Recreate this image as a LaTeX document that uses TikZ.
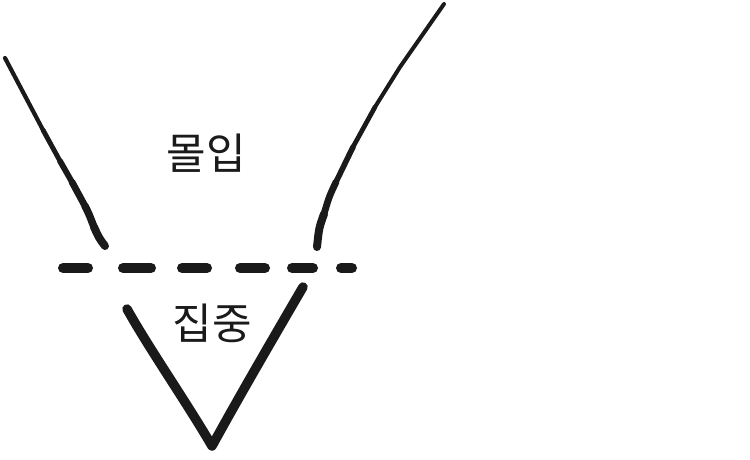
\documentclass[tikz,border=0pt]{standalone}
\usepackage{fontspec}
\newfontfamily\krfont{Noto Sans CJK KR}
\definecolor{ink}{HTML}{1A1A1A}
\begin{document}
\begin{tikzpicture}[x=1pt,y=-1pt,
  stroke/.style={draw=ink,line cap=round,line join=round},
  dashseg/.style={stroke,line width=10pt},
  vline/.style={stroke,line width=9.5pt},
  label/.style={font=\krfont\fontsize{43}{43}\selectfont,text=ink,inner sep=0pt}]
\useasboundingbox (0,0) rectangle (750,460);
% left upper line (tapering)
\coordinate (l1) at (5,58);
\coordinate (l2) at (24,94);
\coordinate (l3) at (43,130);
\coordinate (l4) at (60,161);
\coordinate (l5) at (72,182);
\coordinate (l6) at (85,206);
\coordinate (l7) at (94,227);
\coordinate (l8) at (105,246);
\draw[stroke,line width=4.2pt] (l1) -- (l2) -- (l3);
\draw[stroke,line width=4.9pt] (l3) -- (l4);
\draw[stroke,line width=5.8pt] (l4) -- (l5);
\draw[stroke,line width=6.8pt] (l5) -- (l6);
\draw[stroke,line width=7.5pt] (l6) .. controls (89,214) .. (l7);
\draw[stroke,line width=8pt] (l7) .. controls (99,238) .. (l8);
% right upper line (tapering)
\coordinate (r1) at (444,4);
\coordinate (r2) at (400,67);
\coordinate (r3) at (375,107);
\coordinate (r4) at (353,147);
\coordinate (r5) at (336,182);
\coordinate (r6) at (324,214);
\coordinate (r7) at (317,247);
\draw[stroke,line width=4pt] (r1) -- (r2) -- (r3);
\draw[stroke,line width=4.7pt] (r3) -- (r4);
\draw[stroke,line width=5.6pt] (r4) .. controls (344,164) .. (r5);
\draw[stroke,line width=6.8pt] (r5) .. controls (329,197) .. (r6);
\draw[stroke,line width=8pt] (r6) .. controls (319,228) .. (r7);
% dashed line
\foreach \a/\b [count=\i] in {63/88, 123/151, 182/207, 240/265, 292/313, 341/352}{
  \coordinate (d\i a) at (\a,268);
  \coordinate (d\i b) at (\b,268);
  \draw[dashseg] (d\i a) -- (d\i b);
}
% lower V
\coordinate (v1) at (127,309);
\coordinate (v2) at (212,446);
\coordinate (v3) at (303,287);
\draw[vline] (v1) .. controls (150,350) and (185,400) .. (v2)
  .. controls (240,395) and (275,335) .. (v3);
% labels
\node[label] (flow) at (206,153) {몰입};
\node[label] (focus) at (212,323) {집중};
\end{tikzpicture}
\end{document}
